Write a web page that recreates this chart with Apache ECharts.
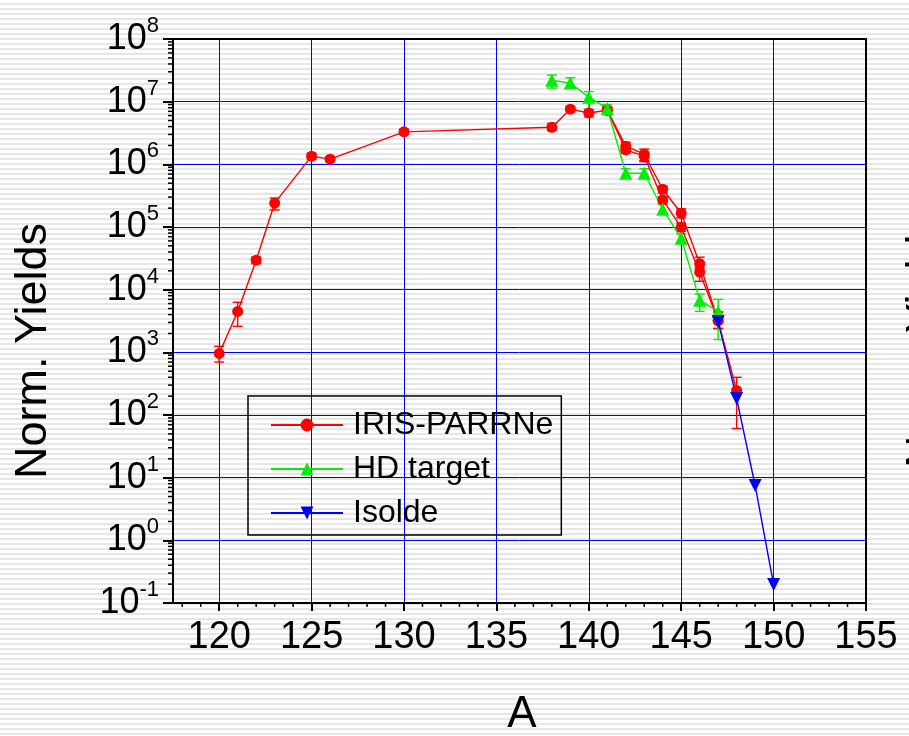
<!DOCTYPE html>
<html>
<head>
<meta charset="utf-8">
<script src="https://cdn.jsdelivr.net/npm/echarts@6/dist/echarts.min.js"></script>
<style>
  html, body { margin: 0; padding: 0; }
  body { background: repeating-linear-gradient(to bottom, #ffffff 0px, #ffffff 3px, #e6e6e6 3px, #e6e6e6 5px); }
  #chart { width: 909px; height: 736px; }
</style>
</head>
<body>
<div id="chart"></div>
<script>
// IRIS-PARRNe (upper branch from 142 on)
const irisA    = [120, 121, 122, 123, 125, 126, 130, 138, 139, 140, 141, 142, 143, 144, 145, 146, 147, 148]
const irisY    = [960, 4500, 29500, 240000, 1350000, 1210000, 3300000, 3900000, 7600000, 6600000, 7300000, 1950000, 1450000, 400000, 166000, 26000, 3200, 247]
const irisLow  = [700, 2600, 26000, 187000, 1200000, 1100000, 3000000, 3500000, 6900000, 5700000, 6500000, 1650000, 1100000, 350000, 140000, 22000, 2400, 61]
const irisHigh = [1250, 6300, 33000, 290000, 1500000, 1330000, 3650000, 4500000, 8400000, 7500000, 8200000, 2250000, 1750000, 450000, 195000, 33000, 4400, 400]

// IRIS-PARRNe (lower branch)
const iris2A    = [141, 142, 143, 144, 145, 146, 147]
const iris2Y    = [7300000, 1700000, 1350000, 270000, 99000, 19000, 3200]
const iris2Low  = [6500000, 1500000, 1150000, 240000, 86000, 13600, 2400]
const iris2High = [8200000, 1900000, 1550000, 305000, 115000, 23000, 4400]

// HD target
const hdA    = [138, 139, 140, 141, 142, 143, 144, 145, 146, 147]
const hdY    = [22000000, 19800000, 11800000, 7800000, 720000, 720000, 192000, 66000, 6800, 4500]
const hdLow  = [16500000, 16500000, 6800000, 6500000, 600000, 600000, 160000, 55000, 4500, 1600]
const hdHigh = [26600000, 24000000, 14500000, 9000000, 850000, 850000, 230000, 78000, 8500, 7000]

// Isolde
const isoA = [147, 148, 149, 150]
const isoY = [3100, 184, 7.5, 0.197]

const xMin = 117.5
const xMax = 155
const yMin = 0.1
const yMax = 1e8

const FONT = 'Liberation Sans, Arial, sans-serif'

const pairs = (xs, ys) => xs.map((x, i) => [x, ys[i]])
const bars = (xs, lo, hi) => xs.map((x, i) => [x, lo[i], hi[i]])

// minor tick positions
const yMinor = []
for (let e = -1; e < 8; e++) {
  for (let k = 2; k <= 9; k++) yMinor.push([xMin, k * Math.pow(10, e)])
}
const xMinor = []
for (let a = 118; a <= 155; a++) {
  if (a % 5 !== 0) xMinor.push([a, yMin])
}

const errorBar = (color) => (params, api) => {
  const x = api.value(0)
  const lo = api.coord([x, api.value(1)])
  const hi = api.coord([x, api.value(2)])
  const w = 5
  const style = { stroke: color, lineWidth: 1.4 }
  return {
    type: 'group',
    children: [
      { type: 'line', shape: { x1: lo[0], y1: lo[1], x2: hi[0], y2: hi[1] }, style },
      { type: 'line', shape: { x1: lo[0] - w, y1: lo[1], x2: lo[0] + w, y2: lo[1] }, style },
      { type: 'line', shape: { x1: hi[0] - w, y1: hi[1], x2: hi[0] + w, y2: hi[1] }, style },
    ],
  }
}

const errSeries = (data, color) => ({
  type: 'custom',
  renderItem: errorBar(color),
  data,
  encode: { x: 0, y: [1, 2] },
  silent: true,
  z: 3,
})

const lineSeries = (name, data, color, symbol, size, rotate) => ({
  name,
  type: 'line',
  data,
  symbol,
  symbolSize: size,
  symbolRotate: rotate || 0,
  showSymbol: true,
  lineStyle: { color, width: 1.4 },
  itemStyle: { color },
  z: 4,
  animation: false,
})

const frameAxis = () => ({
  show: true,
  axisLine: { show: true, lineStyle: { color: '#000', width: 2 } },
  axisTick: { show: false },
  axisLabel: { show: false },
  splitLine: { show: false },
})

const chart = echarts.init(document.getElementById('chart'))

chart.setOption({
  backgroundColor: 'transparent',
  animation: false,
  textStyle: { fontFamily: FONT },
  grid: { left: 173, top: 39, right: 43, bottom: 133 },
  legend: {
    data: ['IRIS-PARRNe', 'HD target', 'Isolde'],
    orient: 'vertical',
    left: 248, top: 396,
    padding: [13, 8, 6, 22],
    itemWidth: 72, itemHeight: 16, itemGap: 12,
    borderColor: '#000', borderWidth: 1.5,
    backgroundColor: 'transparent',
    textStyle: { fontSize: 32, color: '#000', fontFamily: FONT, padding: [0, 0, 0, 5] },
  },
  xAxis: [
    {
      type: 'value',
      min: xMin, max: xMax,
      minInterval: 5, maxInterval: 5,
      axisLine: { lineStyle: { color: '#000', width: 2 } },
      axisTick: { length: 8, lineStyle: { color: '#000', width: 2 } },
      axisLabel: { showMinLabel: false, fontSize: 38, color: '#000', margin: 16, fontFamily: FONT },
      splitLine: { show: true, lineStyle: { color: '#0000ff', width: 1 } },
    },
    Object.assign({ type: 'value', position: 'top', min: xMin, max: xMax }, frameAxis()),
  ],
  yAxis: [
    {
      type: 'log',
      logBase: 10,
      min: yMin, max: yMax,
      splitNumber: 9,
      axisLine: { show: true, lineStyle: { color: '#000', width: 2 } },
      axisTick: { show: true, length: 10, lineStyle: { color: '#000', width: 2 } },
      axisLabel: {
        color: '#000',
        margin: 14,
        formatter: (v) => '{b|10}{s|' + Math.round(Math.log10(v)) + '}',
        rich: {
          b: { fontSize: 36, color: '#000', fontFamily: FONT },
          s: { fontSize: 22, color: '#000', fontFamily: FONT, padding: [0, 0, 26, 0] },
        },
      },
      splitLine: { show: true, lineStyle: { color: '#0000ff', width: 1 } },
    },
    Object.assign({ type: 'log', position: 'right', min: yMin, max: yMax }, frameAxis()),
  ],
  graphic: [
    {
      type: 'text', x: 34, y: 351, rotation: Math.PI / 2,
      style: { text: 'Norm. Yields', fontSize: 45, fontFamily: FONT, fill: '#000', align: 'center', verticalAlign: 'middle' },
    },
    {
      type: 'text', x: 925, y: 340, rotation: Math.PI / 2,
      style: { text: 'Norm. Yields', fontSize: 45, fontFamily: FONT, fill: '#000', align: 'center', verticalAlign: 'middle' },
    },
    {
      type: 'text', x: 522, y: 715,
      style: { text: 'A', fontSize: 44, fontFamily: FONT, fill: '#000', align: 'center', verticalAlign: 'middle' },
    },
  ],
  series: [
    // minor ticks
    {
      type: 'custom', silent: true, clip: false, z: 10,
      data: yMinor,
      renderItem: (params, api) => {
        const p = api.coord([api.value(0), api.value(1)])
        return { type: 'line', shape: { x1: p[0] - 5, y1: p[1], x2: p[0], y2: p[1] }, style: { stroke: '#000', lineWidth: 1.5 } }
      },
    },
    {
      type: 'custom', silent: true, clip: false, z: 10,
      data: xMinor,
      renderItem: (params, api) => {
        const p = api.coord([api.value(0), api.value(1)])
        return { type: 'line', shape: { x1: p[0], y1: p[1], x2: p[0], y2: p[1] + 4 }, style: { stroke: '#000', lineWidth: 1.5 } }
      },
    },
    errSeries(bars(irisA, irisLow, irisHigh), '#ff0000'),
    errSeries(bars(iris2A, iris2Low, iris2High), '#ff0000'),
    errSeries(bars(hdA, hdLow, hdHigh), '#00ee00'),
    lineSeries('IRIS-PARRNe', pairs(irisA, irisY), '#ff0000', 'circle', 11),
    lineSeries('IRIS-PARRNe ', pairs(iris2A, iris2Y), '#ff0000', 'circle', 11),
    lineSeries('HD target', pairs(hdA, hdY), '#00ee00', 'triangle', 13),
    lineSeries('Isolde', pairs(isoA, isoY), '#0000ff', 'triangle', 13, 180),
  ],
})
</script>
</body>
</html>
